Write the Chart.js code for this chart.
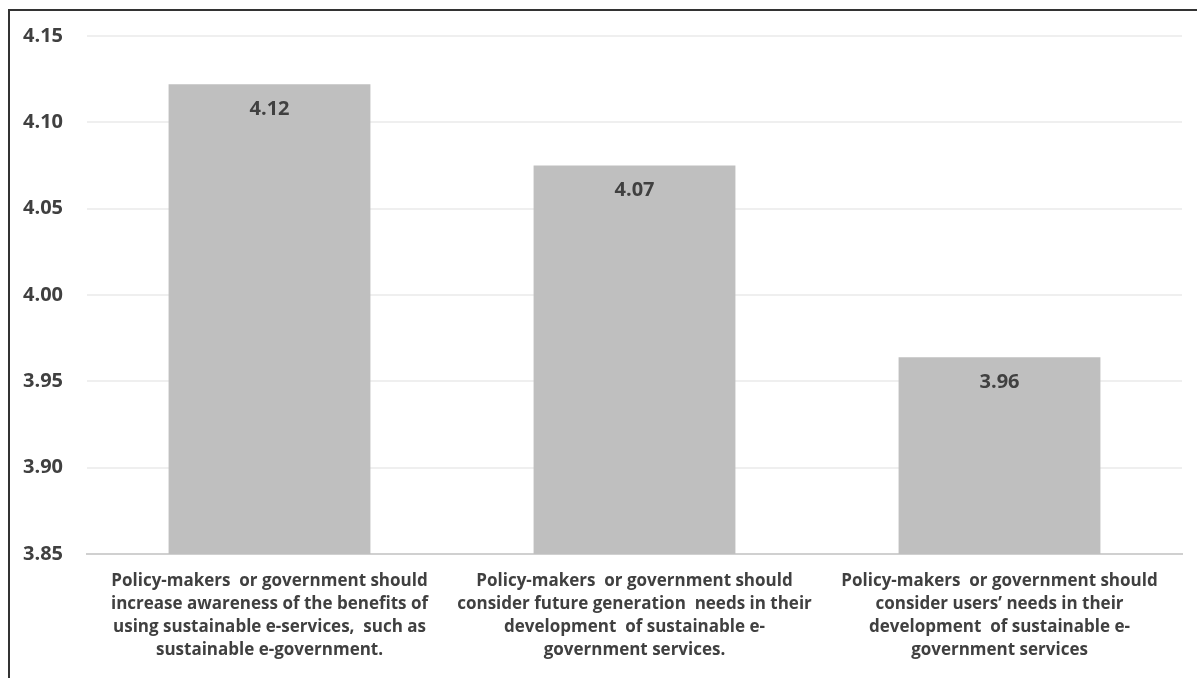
<html>
<head>
<script src="https://cdn.jsdelivr.net/npm/chart.js"></script>
<style>
  body { margin: 0; background: #fff; }
  #wrap { position: relative; width: 1197px; height: 678px; }
  #frame { position: absolute; left: 8px; top: 9px; width: 1300px; height: 800px;
           border-left: 2px solid #333; border-top: 2px solid #333; pointer-events: none; }
</style>
</head>
<body>
<div id="wrap">
  <canvas id="myChart" width="1197" height="678"></canvas>
  <div id="frame"></div>
</div>
<script>
var categories = [
  ["Policy-makers  or government should", "increase awareness of the benefits of", "using sustainable e-services,  such as", "sustainable e-government."],
  ["Policy-makers  or government should", "consider future generation  needs in their", "development  of sustainable e-", "government services."],
  ["Policy-makers  or government should", "consider users\u2019 needs in their", "development  of sustainable e-", "government services"]
];
var values = [4.122, 4.075, 3.964];
var valueLabels = ["4.12", "4.07", "3.96"];
var yTicks = [3.85, 3.90, 3.95, 4.00, 4.05, 4.10, 4.15];

// draw the number inside each bar near the top
var barLabels = {
  id: 'barLabels',
  afterDatasetsDraw: function(chart) {
    var ctx = chart.ctx;
    var meta = chart.getDatasetMeta(0);
    ctx.save();
    ctx.font = 'bold 20px "Open Sans"';
    ctx.fillStyle = '#404040';
    ctx.textAlign = 'center';
    ctx.textBaseline = 'middle';
    meta.data.forEach(function(bar, i) {
      ctx.fillText(valueLabels[i], bar.x, bar.y + 25);
    });
    ctx.restore();
  }
};

var ctx = document.getElementById('myChart').getContext('2d');
var myChart = new Chart(ctx, {
  type: 'bar',
  data: {
    labels: categories,
    datasets: [{
      data: values,
      backgroundColor: '#bfbfbf',
      borderWidth: 0,
      barPercentage: 0.553,
      categoryPercentage: 1
    }]
  },
  options: {
    responsive: false,
    animation: false,
    layout: { padding: { left: 0, right: 15, top: 36, bottom: 0 } },
    plugins: { legend: { display: false }, tooltip: { enabled: false } },
    scales: {
      x: {
        afterFit: function(s) { s.height = 124; },
        grid: { display: false, drawTicks: false },
        border: { color: '#d0d0d0', width: 2 },
        ticks: {
          padding: 16,
          maxRotation: 0,
          color: '#404040',
          font: { family: 'Open Sans', size: 17, weight: 'bold', lineHeight: 1.353 }
        }
      },
      y: {
        min: 3.85,
        max: 4.15,
        afterFit: function(s) { s.width = 87; },
        afterBuildTicks: function(s) { s.ticks = yTicks.map(function(v) { return { value: v }; }); },
        grid: { color: '#efefef', lineWidth: 2, drawTicks: false },
        border: { display: false },
        ticks: {
          padding: 24,
          color: '#404040',
          font: { family: 'Open Sans', size: 20, weight: 'bold' },
          callback: function(v) { return v.toFixed(2); }
        }
      }
    }
  },
  plugins: [barLabels]
});
</script>
</body>
</html>
